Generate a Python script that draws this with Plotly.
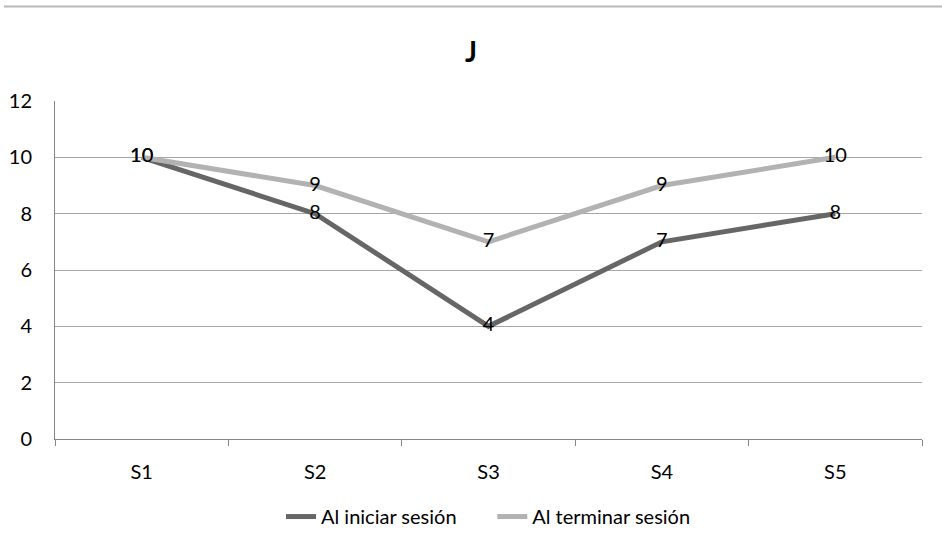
import plotly.graph_objects as go

categories = ["S1", "S2", "S3", "S4", "S5"]
inicio = [10, 8, 4, 7, 8]
termino = [10, 9, 7, 9, 10]
series_names = ["Al iniciar sesión", "Al terminar sesión"]
y_ticks = [0, 2, 4, 6, 8, 10, 12]

FONT = "Lato, Calibri, Carlito, 'Open Sans', sans-serif"
FS = 20

fig = go.Figure()
fig.add_trace(go.Scatter(
    x=categories, y=inicio, name=series_names[0] + "      ", mode="lines+text",
    text=[str(v) for v in inicio], textposition="middle center",
    textfont=dict(size=FS, color="#000000", family=FONT),
    line=dict(color="#666666", width=5),
))
fig.add_trace(go.Scatter(
    x=categories, y=termino, name=series_names[1], mode="lines+text",
    text=[str(v) for v in termino], textposition="middle center",
    textfont=dict(size=FS, color="#000000", family=FONT),
    line=dict(color="#b2b2b2", width=5),
))

fig.update_layout(
    width=942, height=548,
    margin=dict(l=55, r=20, t=101, b=107),
    paper_bgcolor="white", plot_bgcolor="white",
    font=dict(family=FONT, size=FS, color="#000000"),
    title=dict(text="<b>J</b>", x=0.5, xanchor="center", y=1 - 52 / 548, yanchor="middle",
               font=dict(size=28, family=FONT, color="#000000")),
    showlegend=True,
    legend=dict(orientation="h", x=0.5, xanchor="center", y=-(519 - 441) / 340, yanchor="middle",
                font=dict(size=FS, family=FONT), itemwidth=30, tracegroupgap=0),
    xaxis=dict(type="category", range=[-0.5, 4.5], showline=True, linecolor="#868686", linewidth=1,
               ticks="outside", tickson="boundaries", ticklen=6, tickcolor="#868686",
               showgrid=False, zeroline=False, tickfont=dict(size=FS), fixedrange=True,
               ticklabelstandoff=15, automargin=False),
    yaxis=dict(range=[0, 12], tickvals=y_ticks, showline=True, linecolor="#868686", linewidth=1,
               showgrid=True, gridcolor="#a6a6a6", gridwidth=1, zeroline=False,
               ticks="", tickfont=dict(size=FS), ticklabelstandoff=18, automargin=False),
    shapes=[dict(type="line", xref="paper", yref="paper",
                 x0=(4 - 55) / 867, x1=(942 - 55) / 867,
                 y0=1 + (101 - 6) / 340, y1=1 + (101 - 6) / 340,
                 line=dict(color="#b8b8b8", width=2))],
)

fig.write_html("out.html")
